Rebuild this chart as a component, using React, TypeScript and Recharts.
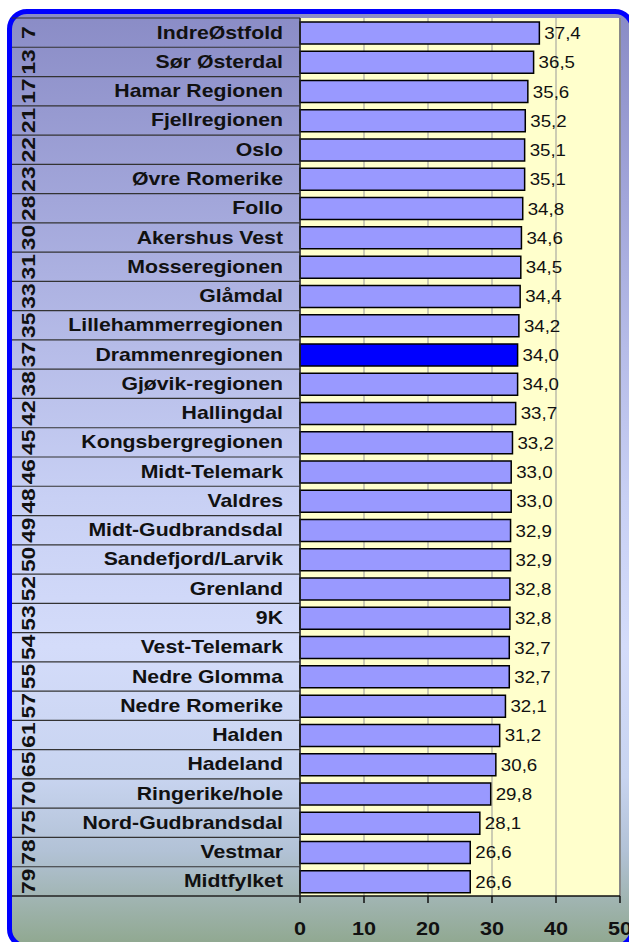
import { BarChart, Bar, XAxis, YAxis, CartesianGrid, Cell, LabelList, ReferenceLine } from 'recharts'

const regions = [
  'IndreØstfold', 'Sør Østerdal', 'Hamar Regionen', 'Fjellregionen', 'Oslo', 'Øvre Romerike',
  'Follo', 'Akershus Vest', 'Mosseregionen', 'Glåmdal', 'Lillehammerregionen', 'Drammenregionen',
  'Gjøvik-regionen', 'Hallingdal', 'Kongsbergregionen', 'Midt-Telemark', 'Valdres', 'Midt-Gudbrandsdal',
  'Sandefjord/Larvik', 'Grenland', '9K', 'Vest-Telemark', 'Nedre Glomma', 'Nedre Romerike',
  'Halden', 'Hadeland', 'Ringerike/hole', 'Nord-Gudbrandsdal', 'Vestmar', 'Midtfylket',
]
const ranks = [7, 13, 17, 21, 22, 23, 28, 30, 31, 33, 35, 37, 38, 42, 45, 46, 48, 49, 50, 52, 53, 54, 55, 57, 61, 65, 70, 75, 78, 79]
const values = [
  37.4, 36.5, 35.6, 35.2, 35.1, 35.1, 34.8, 34.6, 34.5, 34.4, 34.2, 34.0, 34.0, 33.7, 33.2,
  33.0, 33.0, 32.9, 32.9, 32.8, 32.8, 32.7, 32.7, 32.1, 31.2, 30.6, 29.8, 28.1, 26.6, 26.6,
]
const highlight = 'Drammenregionen'
const xTicks = [0, 10, 20, 30, 40, 50]

const W = 629
const H = 942
const TOP = 18
const Y_W = 300
const X_H = 46
const ROW = (H - TOP - X_H) / regions.length
const FONT = 'Liberation Sans, Arial, sans-serif'

const data = regions.map((name, i) => ({ name, rank: ranks[i], value: values[i] }))

const fmt = (v: number) => v.toFixed(1).replace('.', ',')

function RegionTick({ y, payload }: any) {
  const i = regions.indexOf(payload.value)
  const top = y - ROW / 2
  return (
    <g>
      <line x1={12} x2={Y_W} y1={top} y2={top} stroke="#333" strokeWidth={1.2} />
      {i === regions.length - 1 && (
        <line x1={12} x2={Y_W} y1={top + ROW} y2={top + ROW} stroke="#222" strokeWidth={1.5} />
      )}
      <g transform={`translate(35, ${y}) rotate(-90) scale(1.2, 0.95)`}>
        <text textAnchor="middle" fontSize={19} fontWeight="bold" fontFamily={FONT} fill="#111">
          {ranks[i]}
        </text>
      </g>
      <g transform={`translate(283, ${y}) scale(1.18, 1)`}>
        <text textAnchor="end" dy={6} fontSize={18} fontWeight="bold" fontFamily={FONT} fill="#111">
          {payload.value}
        </text>
      </g>
    </g>
  )
}

function XTick({ x, y, payload }: any) {
  return (
    <g transform={`translate(${x}, ${y + 23}) scale(1.2, 1)`}>
      <text textAnchor="middle" dy={6.5} fontSize={18} fontWeight="bold" fontFamily={FONT} fill="#111">
        {payload.value}
      </text>
    </g>
  )
}

function ValueLabel({ x, y, width, height, value }: any) {
  return (
    <g transform={`translate(${Number(x) + Number(width) + 5}, ${Number(y) + Number(height) / 2}) scale(1.1, 1)`}>
      <text dy={6} fontSize={17} fontFamily={FONT} fill="#111">
        {fmt(Number(value))}
      </text>
    </g>
  )
}

export default function App() {
  return (
    <div style={{ position: 'relative', width: W, height: H, overflow: 'hidden' }}>
      <style>{'body{margin:0;overflow:hidden}'}</style>
      <div
        style={{
          position: 'absolute',
          left: 7,
          top: 9,
          width: 628,
          height: 940,
          boxSizing: 'border-box',
          border: '5px solid #0000ff',
          borderRadius: 20,
          background:
            'linear-gradient(to bottom, #8a8cc6 0%, #a2a6da 20%, #b6bce8 36%, #c8d0f4 52%, #d4dcfa 68%, #c8d4f0 82%, #b2c2d6 90%, #90a890 100%)',
        }}
      />
      <div style={{ position: 'absolute', left: 0, top: 0 }}>
        <BarChart
          width={W}
          height={H}
          data={data}
          layout="vertical"
          margin={{ top: TOP, right: 9, left: 0, bottom: 0 }}
          barCategoryGap={0}
        >
          <CartesianGrid horizontal={false} stroke="#999" fill="#ffffcc" />
          <XAxis
            type="number"
            domain={[0, 50]}
            ticks={xTicks}
            height={X_H}
            axisLine={{ stroke: '#111', strokeWidth: 1.5 }}
            tickLine={{ stroke: '#111', strokeWidth: 1.5 }}
            tickSize={7}
            tick={<XTick />}
            interval={0}
          />
          <YAxis
            type="category"
            dataKey="name"
            width={Y_W}
            axisLine={{ stroke: '#222', strokeWidth: 1.5 }}
            tickLine={false}
            tick={<RegionTick />}
            interval={0}
          />
          <ReferenceLine x={50} stroke="#888" strokeWidth={2} />
          <Bar dataKey="value" barSize={22} stroke="#000" strokeWidth={1.5} isAnimationActive={false}>
            {data.map(d => (
              <Cell key={d.name} fill={d.name === highlight ? '#0000ff' : '#9999ff'} />
            ))}
            <LabelList dataKey="value" content={<ValueLabel />} />
          </Bar>
        </BarChart>
      </div>
    </div>
  )
}
